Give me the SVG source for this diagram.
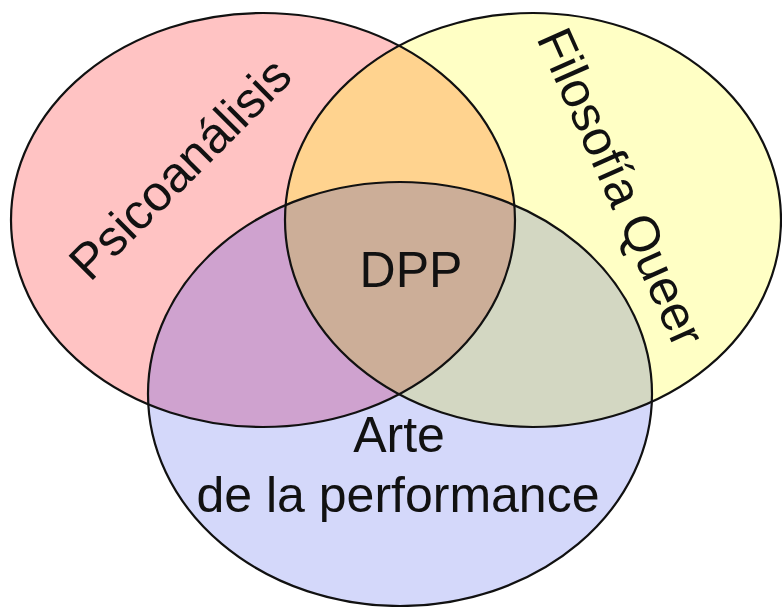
<svg xmlns="http://www.w3.org/2000/svg" xmlns:xlink="http://www.w3.org/1999/xlink" width="782" height="607" viewBox="0 0 782 607">
  <style>
    .lbl { font-family: "Liberation Sans", Arial, sans-serif; font-size: 50px; fill: #111; }
    .outline { fill: none; stroke: #111; stroke-width: 2.2; }
  </style>
  <defs>
    <ellipse id="eR" cx="263" cy="220" rx="252" ry="207"/>
    <ellipse id="eY" cx="533" cy="220" rx="248" ry="207"/>
    <ellipse id="eB" cx="400" cy="394" rx="252" ry="212"/>
    <clipPath id="cR"><use xlink:href="#eR"/></clipPath>
    <clipPath id="cY"><use xlink:href="#eY"/></clipPath>
    <clipPath id="cB"><use xlink:href="#eB"/></clipPath>
  </defs>
  <rect width="782" height="607" fill="#ffffff"/>

  <g id="psicoanalisis">
    <use xlink:href="#eR" fill="#ffc3c3"/>
  </g>
  <g id="filosofia-queer">
    <use xlink:href="#eY" fill="#ffffc5"/>
  </g>
  <g id="arte-performance">
    <use xlink:href="#eB" fill="#d4d8fa"/>
  </g>

  <g id="overlaps">
    <g clip-path="url(#cR)"><use xlink:href="#eY" fill="#ffd38f"/></g>
    <g clip-path="url(#cR)"><use xlink:href="#eB" fill="#cfa2cf"/></g>
    <g clip-path="url(#cY)"><use xlink:href="#eB" fill="#d3d7c2"/></g>
    <g id="dpp" clip-path="url(#cR)"><g clip-path="url(#cY)"><use xlink:href="#eB" fill="#ccae98"/></g></g>
  </g>

  <g id="outlines">
    <use xlink:href="#eR" class="outline"/>
    <use xlink:href="#eY" class="outline"/>
    <use xlink:href="#eB" class="outline"/>
  </g>

  <g id="labels">
    <text class="lbl" x="90" y="283" transform="rotate(-45 90 283)">Psicoanálisis</text>
    <text class="lbl" x="536" y="38" transform="rotate(66 536 38)">Filosofía Queer</text>
    <text class="lbl" x="411" y="287" text-anchor="middle">DPP</text>
    <text class="lbl" x="399" y="452" text-anchor="middle">Arte</text>
    <text class="lbl" x="398" y="512" text-anchor="middle">de la performance</text>
  </g>
</svg>
